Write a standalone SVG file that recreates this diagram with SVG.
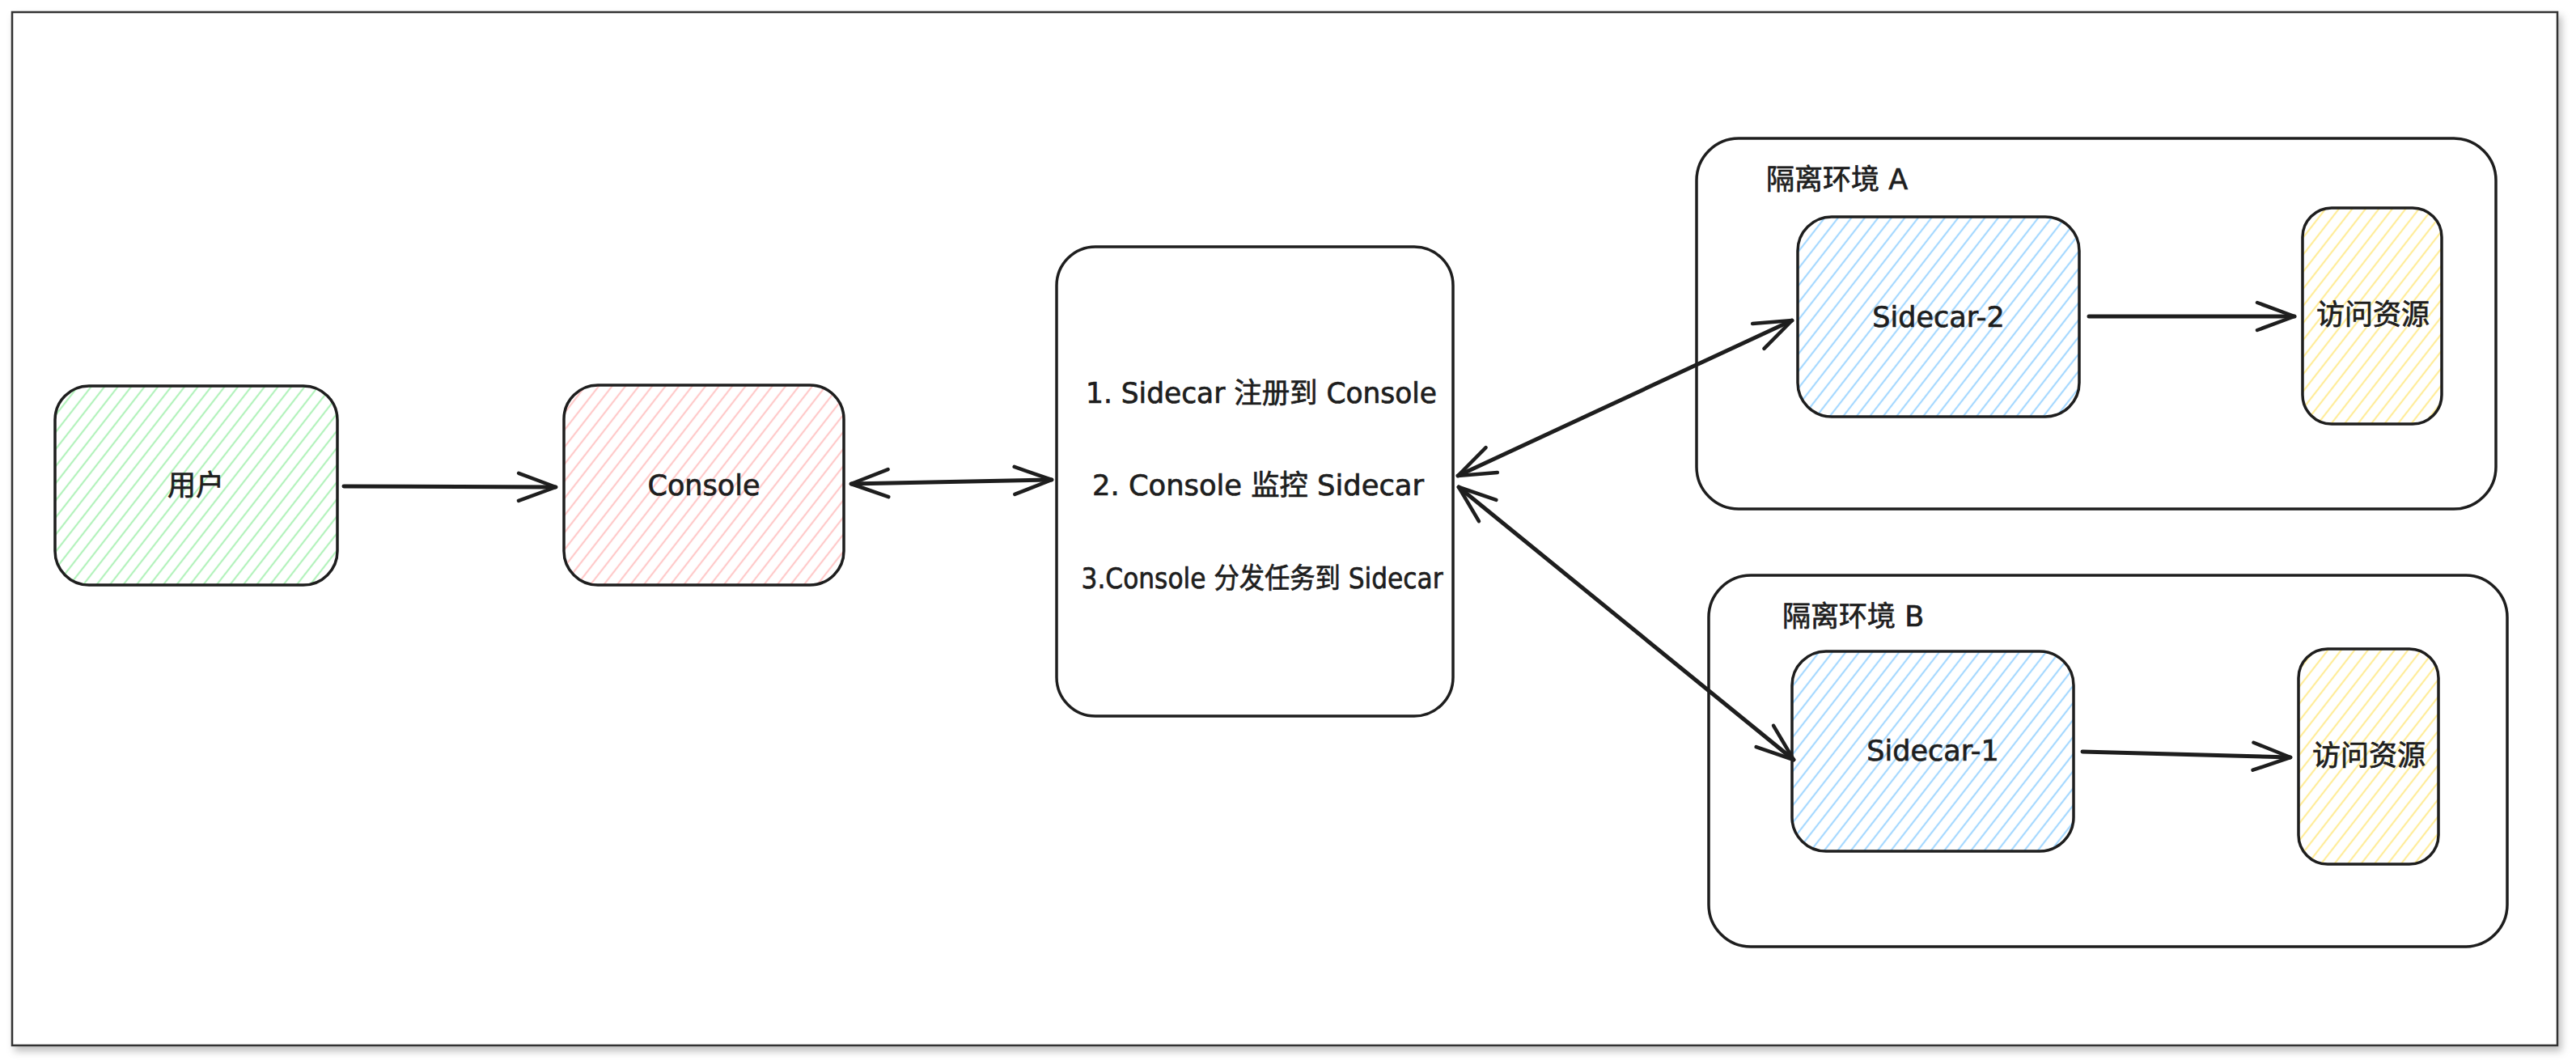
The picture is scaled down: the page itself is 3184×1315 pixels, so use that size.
<svg xmlns="http://www.w3.org/2000/svg" width="3184" height="1315" viewBox="0 0 3184 1315">
  <defs>
    <style>
      .box { stroke: #1e1e1e; stroke-width: 3.5; }
      .plain { fill: none; stroke: #1e1e1e; stroke-width: 3.5; }
      .lbl { font-family: "DejaVu Sans", "Noto Sans CJK SC", sans-serif; font-size: 35px; fill: #1e1e1e; stroke: #1e1e1e; stroke-width: 0.7; dominant-baseline: central; }
      .mid { text-anchor: middle; }
      .conn { fill: none; stroke: #1e1e1e; stroke-width: 5; stroke-linecap: round; }
    </style>
    <filter id="shadow" x="-5%" y="-5%" width="110%" height="115%">
      <feDropShadow dx="4" dy="6" stdDeviation="5" flood-color="#000" flood-opacity="0.25"/>
    </filter>
    <pattern id="hGreen" patternUnits="userSpaceOnUse" width="13" height="13" patternTransform="rotate(38)">
      <line x1="6" y1="0" x2="6" y2="13" stroke="#b2f2bb" stroke-width="2.2"/>
    </pattern>
    <pattern id="hRed" patternUnits="userSpaceOnUse" width="13" height="13" patternTransform="rotate(38)">
      <line x1="6" y1="0" x2="6" y2="13" stroke="#ffc9c9" stroke-width="2.2"/>
    </pattern>
    <pattern id="hBlue" patternUnits="userSpaceOnUse" width="13" height="13" patternTransform="rotate(38)">
      <line x1="6" y1="0" x2="6" y2="13" stroke="#a5d8ff" stroke-width="2.2"/>
    </pattern>
    <pattern id="hYellow" patternUnits="userSpaceOnUse" width="13" height="13" patternTransform="rotate(38)">
      <line x1="6" y1="0" x2="6" y2="13" stroke="#ffec99" stroke-width="2.2"/>
    </pattern>
    <marker id="arr" markerUnits="userSpaceOnUse" viewBox="-60 -30 70 60" markerWidth="70" markerHeight="60" refX="0" refY="0" orient="auto-start-reverse" overflow="visible">
      <path d="M -46,-17 L 0,0 L -46,17" fill="none" stroke="#1e1e1e" stroke-width="4.5" stroke-linecap="round" stroke-linejoin="round"/>
    </marker>
  </defs>

  <rect x="0" y="0" width="3184" height="1315" fill="#ffffff"/>
  <rect id="frame" x="15" y="15" width="3146" height="1277" fill="#ffffff" stroke="#333333" stroke-width="2.5" filter="url(#shadow)"/>

  <g id="env-a">
    <rect class="plain" x="2097" y="171" width="988" height="458" rx="52" ry="52"/>
    <text class="lbl" x="2183" y="222">隔离环境 A</text>
  </g>
  <g id="env-b">
    <rect class="plain" x="2112" y="711" width="987" height="459" rx="52" ry="52"/>
    <text class="lbl" x="2203" y="762">隔离环境 B</text>
  </g>

  <g id="user">
    <rect class="box" x="68" y="477" width="349" height="246" rx="42" ry="42" fill="url(#hGreen)"/>
    <text class="lbl mid" x="242" y="600">用户</text>
  </g>
  <g id="console">
    <rect class="box" x="697" y="476" width="346" height="247" rx="42" ry="42" fill="url(#hRed)"/>
    <text class="lbl mid" x="870" y="600">Console</text>
  </g>
  <g id="steps">
    <rect class="plain" x="1306" y="305" width="490" height="580" rx="48" ry="48"/>
    <text class="lbl mid" x="1559" y="486" textLength="434" lengthAdjust="spacingAndGlyphs">1. Sidecar 注册到 Console</text>
    <text class="lbl mid" x="1555" y="600" textLength="410" lengthAdjust="spacingAndGlyphs">2. Console 监控 Sidecar</text>
    <text class="lbl mid" x="1560" y="715" textLength="447" lengthAdjust="spacingAndGlyphs">3.Console 分发任务到 Sidecar</text>
  </g>
  <g id="sidecar-2">
    <rect class="box" x="2222" y="268" width="348" height="247" rx="42" ry="42" fill="url(#hBlue)"/>
    <text class="lbl mid" x="2396" y="392">Sidecar-2</text>
  </g>
  <g id="resource-a">
    <rect class="box" x="2846" y="257" width="172" height="267" rx="36" ry="36" fill="url(#hYellow)"/>
    <text class="lbl mid" x="2933" y="389">访问资源</text>
  </g>
  <g id="sidecar-1">
    <rect class="box" x="2215" y="805" width="348" height="247" rx="42" ry="42" fill="url(#hBlue)"/>
    <text class="lbl mid" x="2389" y="928">Sidecar-1</text>
  </g>
  <g id="resource-b">
    <rect class="box" x="2841" y="802" width="173" height="266" rx="36" ry="36" fill="url(#hYellow)"/>
    <text class="lbl mid" x="2928" y="934">访问资源</text>
  </g>

  <g id="connectors">
    <path class="conn" d="M 425,601 L 687,602" marker-end="url(#arr)"/>
    <path class="conn" d="M 1052,598 L 1300,593" marker-start="url(#arr)" marker-end="url(#arr)"/>
    <path class="conn" d="M 1802,588 L 2215,396" marker-start="url(#arr)" marker-end="url(#arr)"/>
    <path class="conn" d="M 1803,602 L 2217,939" marker-start="url(#arr)" marker-end="url(#arr)"/>
    <path class="conn" d="M 2582,391 L 2836,391" marker-end="url(#arr)"/>
    <path class="conn" d="M 2574,929 L 2831,936" marker-end="url(#arr)"/>
  </g>
</svg>
